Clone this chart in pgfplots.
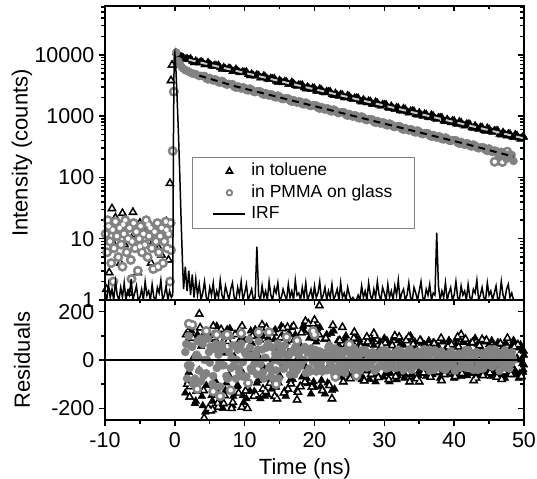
\documentclass[border=0pt]{standalone}
\usepackage{fontspec}
\setmainfont{Liberation Sans}
\usepackage{pgfplots}
\usepackage{pgfplotstable}
\pgfplotsset{compat=1.18}
\definecolor{pgray}{RGB}{130,130,130}
% toluene points before the rise (open triangles)
\pgfplotstableread[row sep=\\]{x y\\
-9.8 1.5\\ -9.4 2.8\\ -9.0 31\\ -8.7 8\\ -8.5 22\\ -8.1 12\\ -7.8 4\\ -7.5 26\\ -7.2 8\\ -6.9 15\\
-6.5 1.3\\ -6.2 10\\ -6.0 27\\ -5.6 10\\ -5.3 2.8\\ -5.0 18\\ -4.6 6\\ -4.2 13\\ -3.8 9\\ -3.4 4\\
-3.0 11\\ -2.6 16\\ -2.3 7\\ -1.9 5.4\\ -1.6 12\\ -1.2 19\\ -0.9 4.5\\ -0.7 80\\ -0.55 3800\\ -0.4 6800\\
}\tolpre
% PMMA points before the rise (open circles)
\pgfplotstableread[row sep=\\]{x y\\
-9.9 12\\ -9.7 6\\ -9.5 16\\ -9.3 9\\ -9.1 4\\ -8.9 14\\ -8.7 7\\ -8.5 19\\ -8.3 11\\ -8.1 5\\
-7.9 15\\ -7.7 8\\ -7.5 3.5\\ -7.3 12\\ -7.1 20\\ -6.9 6\\ -6.7 10\\ -6.5 15\\ -6.3 4.5\\ -6.1 9\\
-5.9 18\\ -5.7 7\\ -5.5 13\\ -5.3 3\\ -5.1 10\\ -4.9 16\\ -4.7 6\\ -4.5 12\\ -4.3 8\\ -4.1 20\\
-3.9 5\\ -3.7 11\\ -3.5 15\\ -3.3 7\\ -3.1 3.2\\ -2.9 13\\ -2.7 9\\ -2.5 18\\ -2.3 6\\ -2.1 11\\
-1.9 15\\ -1.7 4\\ -1.5 9\\ -1.3 19\\ -1.1 7\\ -0.9 12\\ -0.7 2\\ -0.55 6.5\\ -9.6 20\\ -8.8 2\\
-7.4 17\\ -6.2 2.2\\ -5.0 7.5\\ -3.8 17\\ -2.4 3.5\\ -1.2 14\\ -0.6 18\\ -0.3 270\\ -0.15 2500\\
47.6 263\\ 45.8 180\\ 46.9 178\\
}\pmpre
% toluene residuals, outer points (open triangles)
\pgfplotstableread[row sep=\\]{x y\\
1.625 105\\ 2.125 -153\\ 2.625 90\\ 3.125 -128\\ 3.625 133\\ 4.125 -126\\ 4.625 112\\ 5.125 -210\\ 5.625 91\\ 6.125 -179\\
6.625 126\\ 7.125 -147\\ 7.625 77\\ 8.125 -200\\ 8.625 105\\ 9.125 -137\\ 9.625 140\\ 10.125 -128\\ 10.625 84\\ 11.125 98\\
11.625 -144\\ 12.125 84\\ 12.625 -120\\ 13.125 133\\ 13.625 -96\\ 14.125 112\\ 14.625 -160\\ 15.125 91\\ 15.625 -136\\ 16.125 135\\
16.625 -98\\ 17.125 83\\ 17.625 -133\\ 18.125 113\\ 18.625 -91\\ 19.125 150\\ 19.625 -112\\ 20.125 90\\ 20.625 105\\ 21.125 -126\\
21.625 90\\ 22.125 -105\\ 22.625 143\\ 23.125 -54\\ 23.625 80\\ 24.125 -90\\ 24.625 65\\ 25.125 -77\\ 25.625 90\\ 26.125 -63\\
26.625 55\\ 27.125 -86\\ 27.625 75\\ 28.125 -59\\ 28.625 100\\ 29.125 -72\\ 29.625 60\\ 30.125 70\\ 30.625 -81\\ 31.125 60\\
31.625 -68\\ 32.125 95\\ 32.625 -54\\ 33.125 80\\ 33.625 -90\\ 34.125 65\\ 34.625 -77\\ 35.125 81\\ 35.625 -53\\ 36.125 50\\
36.625 -71\\ 37.125 68\\ 37.625 -49\\ 38.125 90\\ 38.625 -60\\ 39.125 54\\ 39.625 63\\ 40.125 -68\\ 40.625 54\\ 41.125 -56\\
41.625 86\\ 42.125 -45\\ 42.625 72\\ 43.125 -75\\ 43.625 59\\ 44.125 -64\\ 44.625 81\\ 45.125 -53\\ 45.625 50\\ 46.125 -71\\
46.625 68\\ 47.125 -49\\ 47.625 90\\ 48.125 -60\\ 48.625 54\\ 49.125 63\\ 49.625 -68\\
3.5 190\\ 4.2 -240\\ 5.5 140\\ 12.5 145\\ 17.5 -165\\ 20.7 225\\ 20 165\\ 19.8 150\\ 22.5 -160\\ 24 135\\
27.5 95\\ 41 105\\ 40.5 95\\ 44 85\\ 46.8 -80\\ 35 -90\\ 38.2 -85\\ 42.8 -85\\ 1.8 -100\\ 2.2 -110\\
4.8 -200\\ 5.4 -205\\ 6.2 -195\\ 7 -180\\ 8.3 -175\\ 9.6 -195\\ 10.4 -200\\ 11.3 -150\\ 13 -130\\ 14.3 -150\\
16.2 -120\\ 18 -110\\ 9.3 125\\ 12 100\\ 15.5 130\\ 17 140\\ 18.7 160\\ 25.7 115\\ 28.5 110\\ 31.5 100\\
33.5 95\\
}\tolres
% PMMA residuals, outer points (open circles)
\pgfplotstableread[row sep=\\]{x y\\
2 150\\ 2.5 145\\ 4.5 120\\ 6.5 -150\\ 5.5 -130\\ 7.5 105\\ 9.5 110\\ 12 115\\ 13.5 115\\ 14.5 -100\\
19.8 120\\ 20 105\\ 3.2 -120\\ 8 -125\\ 16 95\\ 25 65\\ 26 -65\\ 6 105\\ 10.5 -95\\ 17.5 80\\ 23 -70\\
}\pmres
\pgfplotsset{
  common/.style={
    scale only axis, width=419bp,
    xmin=-10, xmax=50,
    xtick={-10,0,10,20,30,40,50},
    minor x tick num=1,
    axis line style={line width=2bp},
    tick style={line width=1.5bp, black},
    major tick length=5.5bp, minor tick length=3.5bp,
    tick label style={font=\fontsize{21.5bp}{25bp}\selectfont},
    xticklabel style={inner sep=0pt, anchor=north, yshift=-7bp},
    yticklabel style={inner sep=0pt, anchor=east, xshift=-5bp},
    every axis y label/.style={at={(rel axis cs:0,0.5)}, xshift=-83bp, rotate=90, anchor=center, inner sep=0pt, font=\fontsize{22bp}{26bp}\selectfont},
    every axis x label/.style={at={(rel axis cs:0.5,0)}, xshift=-9.5bp, yshift=-38bp, anchor=north, inner sep=0pt, font=\fontsize{22bp}{26bp}\selectfont},
  },
  triA/.style={only marks, mark=triangle*, mark size=5.2bp, black, mark options={solid, fill=black, draw=black}},
  triB/.style={only marks, mark=triangle*, mark size=1.9bp, white, mark options={solid, fill=white, draw=white}},
  cirA/.style={only marks, mark=*, mark size=4.8bp, pgray, mark options={solid, fill=pgray, draw=pgray}},
  cirB/.style={only marks, mark=*, mark size=2.0bp, white, mark options={solid, fill=white, draw=white}},
  tolfill/.style={only marks, mark=triangle*, mark size=4.5bp, black, mark options={solid, fill=black, draw=black}},
  pmfill/.style={only marks, mark=*, mark size=4bp, pgray, mark options={solid, fill=pgray, draw=pgray}},
}
\begin{document}
\begin{tikzpicture}
\useasboundingbox (-105bp,-59bp) rectangle (432bp,420bp);
% ---------------- residual panel ----------------
\begin{axis}[common, at={(0,0)}, anchor=south west, height=120bp,
  ymin=-248, ymax=248, ytick={-200,0,200}, minor y tick num=1,
  tick align=outside, xtick pos=left, ytick pos=left,
  xticklabels={-10,0,10,20,30,40,50}, yticklabels={-200,0,200},
  xlabel={Time (ns)}, ylabel={Residuals}]
\addplot[tolfill] coordinates {
(1.5,-136)(1.75,75)(2,-51)(2.25,135)(2.5,-102)(2.75,15)(3,-170)(3.25,105)(3.5,-42)(3.75,56)
(4,-189)(4.25,112)(4.5,-105)(4.75,0)(5,84)(5.25,-147)(5.5,42)(5.75,-84)(6,140)(6.25,-21)
(6.5,-168)(6.75,70)(7,28)(7.25,-126)(7.5,126)(7.75,-63)(8,98)(8.25,-189)(8.5,14)(8.75,56)
(9,-105)(9.25,112)(9.5,-42)(9.75,-147)(10,84)(10.25,-160)(10.5,42)(10.75,-128)(11,70)(11.25,-48)
(11.5,126)(11.75,-96)(12,14)(12.25,-160)(12.5,98)(12.75,-32)(13,56)(13.25,-144)(13.5,112)(13.75,-80)
(14,0)(14.25,84)(14.5,-112)(14.75,42)(15,-64)(15.25,140)(15.5,-16)(15.75,-128)(16,75)(16.25,30)
(16.5,-84)(16.75,135)(17,-42)(17.25,105)(17.5,-126)(17.75,15)(18,60)(18.25,-70)(18.5,120)(18.75,-28)
(19,-98)(19.25,90)(19.5,-140)(19.75,45)(20,-112)(20.25,75)(20.5,-42)(20.75,135)(21,-84)(21.25,15)
(21.5,-140)(21.75,105)(22,-28)(22.25,60)(22.5,-126)(22.75,120)(23,-45)(23.25,0)(23.5,60)(23.75,-63)
(24,30)(24.25,-36)(24.5,100)(24.75,-9)(25,-72)(25.25,50)(25.5,20)(25.75,-54)(26,90)(26.25,-27)
(26.5,70)(26.75,-81)(27,10)(27.25,40)(27.5,-45)(27.75,80)(28,-18)(28.25,-63)(28.5,60)(28.75,-90)
(29,30)(29.25,-72)(29.5,50)(29.75,-27)(30,90)(30.25,-54)(30.5,10)(30.75,-90)(31,70)(31.25,-18)
(31.5,40)(31.75,-81)(32,80)(32.25,-45)(32.5,0)(32.75,60)(33,-63)(33.25,30)(33.5,-36)(33.75,100)
(34,-9)(34.25,-72)(34.5,50)(34.75,20)(35,-45)(35.25,81)(35.5,-23)(35.75,63)(36,-68)(36.25,9)
(36.5,36)(36.75,-38)(37,72)(37.25,-15)(37.5,-53)(37.75,54)(38,-75)(38.25,27)(38.5,-60)(38.75,45)
(39,-23)(39.25,81)(39.5,-45)(39.75,9)(40,-75)(40.25,63)(40.5,-15)(40.75,36)(41,-68)(41.25,72)
(41.5,-38)(41.75,0)(42,54)(42.25,-53)(42.5,27)(42.75,-30)(43,90)(43.25,-8)(43.5,-60)(43.75,45)
(44,18)(44.25,-45)(44.5,81)(44.75,-23)(45,63)(45.25,-68)(45.5,9)(45.75,36)(46,-38)(46.25,72)
(46.5,-15)(46.75,-53)(47,54)(47.25,-75)(47.5,27)(47.75,-60)(48,45)(48.25,-23)(48.5,81)(48.75,-45)
(49,9)(49.25,-75)(49.5,63)(49.75,-15)(50,36)
(1.875,-90)(2.375,120)(2.875,-180)(3.375,80)(3.875,-150)(4.375,-215)(4.875,95)(5.375,-170)(5.875,-120)(6.375,110)
(6.875,-200)(7.375,-95)(7.875,130)(8.375,-150)(8.875,-110)(9.375,85)(9.875,-175)(10.375,-90)(10.875,120)(11.375,-130)
(11.875,-85)(12.375,110)(12.875,-150)(13.375,90)(13.875,-120)(14.375,125)(14.875,-95)(15.375,100)(15.875,-150)(16.375,110)
(16.875,-80)(17.375,95)(17.875,-110)(18.375,140)(18.875,-75)(19.375,115)(19.875,-90)(20.375,130)(20.875,-110)(21.375,85)
(21.875,-95)(22.375,110)(22.875,-120)(23.375,80)(23.875,-70)(24.375,85)(24.875,-60)(25.375,75)(25.875,-65)(26.375,85)
(26.875,-70)(27.375,65)(27.875,-80)(28.375,85)(28.875,-60)(29.375,75)(29.875,-70)(30.375,80)(30.875,-55)(31.375,90)
(31.875,-65)(32.375,70)(32.875,-75)(33.375,85)(33.875,-60)(34.375,75)(34.875,-65)(35.375,70)(35.875,-55)(36.375,80)
(36.875,-60)(37.375,65)(37.875,-50)(38.375,75)(38.875,-55)(39.375,70)(39.875,-60)(40.375,85)(40.875,-50)(41.375,75)
(41.875,-65)(42.375,70)(42.875,-55)(43.375,65)(43.875,-60)(44.375,75)(44.875,-50)(45.375,80)(45.875,-55)(46.375,65)
(46.875,-60)(47.375,70)(47.875,-50)(48.375,65)(48.875,-55)(49.375,50)(49.875,-50)
(49.2,55)(49.4,-55)(49.7,40)(49.9,-40)(48.9,60)(49.1,-60)(50,-20)(50,20)(49.6,0)
};
\addplot[triA] table {\tolres};
\addplot[triB] table {\tolres};
\addplot[pmfill] coordinates {
(1.5,33)(1.75,-77)(2,99)(2.25,-22)(2.5,55)(2.75,-99)(3,11)(3.25,77)(3.5,-44)(3.75,-88)
(4,66)(4.25,0)(4.5,-55)(4.75,88)(5,-11)(5.25,44)(5.5,-66)(5.75,110)(6,-33)(6.25,22)
(6.5,-110)(6.75,66)(7,-22)(7.25,99)(7.5,-77)(7.75,33)(8,-34)(8.25,60)(8.5,0)(8.75,-77)
(9,43)(9.25,-51)(9.5,68)(9.75,-9)(10,34)(10.25,-68)(10.5,17)(10.75,51)(11,-43)(11.25,9)
(11.5,26)(11.75,-60)(12,77)(12.25,-17)(12.5,43)(12.75,-77)(13,9)(13.25,60)(13.5,-34)(13.75,-68)
(14,51)(14.25,0)(14.5,-43)(14.75,68)(15,-6)(15.25,24)(15.5,-36)(15.75,60)(16,-18)(16.25,12)
(16.5,-60)(16.75,36)(17,-12)(17.25,54)(17.5,-42)(17.75,18)(18,-24)(18.25,42)(18.5,0)(18.75,-54)
(19,30)(19.25,-36)(19.5,48)(19.75,-6)(20,24)(20.25,-48)(20.5,12)(20.75,36)(21,-30)(21.25,6)
(21.5,18)(21.75,-42)(22,54)(22.25,-12)(22.5,30)(22.75,-54)(23,6)(23.25,42)(23.5,-24)(23.75,-48)
(24,36)(24.25,0)(24.5,-30)(24.75,48)(25,-5)(25.25,18)(25.5,-27)(25.75,45)(26,-14)(26.25,9)
(26.5,-45)(26.75,27)(27,-9)(27.25,41)(27.5,-32)(27.75,14)(28,-18)(28.25,32)(28.5,0)(28.75,-41)
(29,23)(29.25,-27)(29.5,36)(29.75,-5)(30,18)(30.25,-36)(30.5,9)(30.75,27)(31,-23)(31.25,5)
(31.5,14)(31.75,-32)(32,41)(32.25,-9)(32.5,23)(32.75,-41)(33,5)(33.25,32)(33.5,-18)(33.75,-36)
(34,27)(34.25,0)(34.5,-23)(34.75,36)(35,-5)(35.25,18)(35.5,-27)(35.75,45)(36,-14)(36.25,9)
(36.5,-45)(36.75,27)(37,-9)(37.25,41)(37.5,-32)(37.75,14)(38,-18)(38.25,32)(38.5,0)(38.75,-41)
(39,23)(39.25,-27)(39.5,36)(39.75,-5)(40,18)(40.25,-36)(40.5,9)(40.75,27)(41,-23)(41.25,5)
(41.5,14)(41.75,-32)(42,41)(42.25,-9)(42.5,23)(42.75,-41)(43,5)(43.25,32)(43.5,-18)(43.75,-36)
(44,27)(44.25,0)(44.5,-23)(44.75,36)(45,-5)(45.25,18)(45.5,-27)(45.75,45)(46,-14)(46.25,9)
(46.5,-45)(46.75,27)(47,-9)(47.25,41)(47.5,-32)(47.75,14)(48,-18)(48.25,32)(48.5,0)
(1.625,66)(2.125,-33)(2.625,-99)(3.125,22)(3.625,88)(4.125,-66)(4.625,0)(5.125,55)(5.625,-110)(6.125,44)
(6.625,-22)(7.125,99)(7.625,-77)(8.125,9)(8.625,60)(9.125,-34)(9.625,-68)(10.125,26)(10.625,85)(11.125,-43)
(11.625,17)(12.125,-9)(12.625,-51)(13.125,51)(13.625,-26)(14.125,-77)(14.625,17)(15.125,48)(15.625,-36)(16.125,0)
(16.625,30)(17.125,-60)(17.625,24)(18.125,-12)(18.625,54)(19.125,-42)(19.625,6)(20.125,42)(20.625,-24)(21.125,-48)
(21.625,18)(22.125,60)(22.625,-30)(23.125,12)(23.625,-6)(24.125,-36)(24.625,36)(25.125,-14)(25.625,-41)(26.125,9)
(26.625,36)(27.125,-27)(27.625,0)(28.125,23)(28.625,-45)(29.125,18)(29.625,-9)(30.125,41)(30.625,-32)(31.125,5)
(31.625,32)(32.125,-18)(32.625,-36)(33.125,14)(33.625,45)(34.125,-23)(34.625,9)(35.125,-5)(35.625,-27)(36.125,27)
(36.625,-14)(37.125,-41)(37.625,9)(38.125,36)(38.625,-27)(39.125,0)(39.625,23)(40.125,-45)(40.625,18)(41.125,-9)
(41.625,41)(42.125,-32)(42.625,5)(43.125,32)(43.625,-18)(44.125,-36)(44.625,14)(45.125,45)(45.625,-23)(46.125,9)
(46.625,-5)(47.125,-27)(47.625,27)(48.125,-14)
(1.875,-22)(2.375,55)(2.875,-77)(3.375,11)(3.875,88)(4.375,-55)(4.875,33)(5.375,-99)(5.875,66)(6.375,-11)
(6.875,44)(7.375,-66)(7.875,99)(8.375,-26)(8.875,0)(9.375,60)(9.875,-68)(10.375,17)(10.875,-34)(11.375,-17)
(11.875,43)(12.375,-60)(12.875,9)(13.375,68)(13.875,-43)(14.375,26)(14.875,-77)(15.375,36)(15.875,-6)(16.375,24)
(16.875,-36)(17.375,54)(17.875,-18)(18.375,0)(18.875,42)(19.375,-48)(19.875,12)(20.375,-24)(20.875,-12)(21.375,30)
(21.875,-42)(22.375,6)(22.875,48)(23.375,-30)(23.875,18)(24.375,-54)(24.875,36)(25.375,-5)(25.875,18)(26.375,-27)
(26.875,41)(27.375,-14)(27.875,0)(28.375,32)(28.875,-36)(29.375,9)(29.875,-18)(30.375,-9)(30.875,23)(31.375,-32)
(31.875,5)(32.375,36)(32.875,-23)(33.375,14)(33.875,-41)(34.375,27)(34.875,-5)(35.375,18)(35.875,-27)(36.375,41)
(36.875,-14)(37.375,0)(37.875,32)(38.375,-36)(38.875,9)(39.375,-18)(39.875,-9)(40.375,23)(40.875,-32)(41.375,5)
(41.875,36)(42.375,-23)(42.875,14)(43.375,-41)(43.875,27)(44.375,-5)(44.875,18)(45.375,-27)(45.875,41)(46.375,-14)
(46.875,0)(47.375,32)(47.875,-36)(48.375,9)
};
\addplot[cirA] table {\pmres};
\addplot[cirB] table {\pmres};
\end{axis}
\begin{axis}[common, at={(0,0)}, anchor=south west, height=120bp,
  ymin=-248, ymax=248, ytick={-200,0,200}, minor y tick num=1,
  tick align=inside, xtick pos=right, ytick pos=right, xticklabels={}, yticklabels={}]
\addplot[black, line width=1.2bp] coordinates {(-10,0) (50,0)};
\end{axis}
% ---------------- decay panel ----------------
\begin{axis}[common, at={(0,120bp)}, anchor=south west, height=294bp,
  ymode=log, ymin=1, ymax=62500, ytick={1,10,100,1000,10000},
  minor ytick={2,3,4,5,6,7,8,9,20,30,40,50,60,70,80,90,200,300,400,500,600,700,800,900,2000,3000,4000,5000,6000,7000,8000,9000,20000,30000,40000,50000,60000},
  tick align=outside, xtick pos=left, ytick pos=left,
  xticklabels={}, yticklabels={1,10,100,1000,10000},
  ylabel={Intensity (counts)}]
\addplot[triA] table {\tolpre};
\addplot[triB] table {\tolpre};
\addplot[tolfill] coordinates {
(0.2,10800)(0.5,9900)(1,9300)(1.5,8500)(2,8350)(2.5,7900)(3,7950)
(3.5,7400)(4,7500)(4.5,6950)(5,7050)(5.5,6550)(6,6650)(6.5,6150)(7,6250)(7.5,5750)(8,5900)
(8.5,5450)(9,5500)(9.5,5100)(10,5200)(10.5,4800)(11,4900)(11.5,4500)(12,4620)(12.5,4230)(13,4330)
(13.5,3980)(14,4080)(14.5,3720)(15,3850)(15.5,3500)(16,3620)(16.5,3290)(17,3410)(17.5,3090)(18,3210)
(18.5,2900)(19,3020)(19.5,2720)(20,2850)(20.5,2560)(21,2680)(21.5,2400)(22,2520)(22.5,2260)(23,2370)
(23.5,2120)(24,2230)(24.5,1990)(25,2100)(25.5,1870)(26,1980)(26.5,1760)(27,1860)(27.5,1650)(28,1750)
(28.5,1550)(29,1650)(29.5,1460)(30,1550)(30.5,1370)(31,1460)(31.5,1290)(32,1370)(32.5,1210)(33,1300)
(33.5,1130)(34,1220)(34.5,1060)(35,1140)(35.5,1000)(36,1075)(36.5,940)(37,1010)(37.5,880)(38,950)
(38.5,830)(39,890)(39.5,780)(40,840)(40.5,730)(41,790)(41.5,690)(42,745)(42.5,645)(43,700)
(43.5,605)(44,660)(44.5,570)(45,615)(45.5,540)(46,580)(46.5,505)(47,545)(47.5,475)(48,515)
(48.5,450)(49,485)(49.5,420)(50,455)
(0.75,9400)(1.25,8900)(1.75,8700)(2.25,8670)(2.75,7450)(3.25,7530)(3.75,7750)(4.25,6870)(4.75,7500)(5.25,6590)
(5.75,6790)(6.25,6770)(6.75,5820)(7.25,5890)(7.75,6060)(8.25,5370)(8.75,5860)(9.25,5150)(9.75,5300)(10.25,5300)
(10.75,4550)(11.25,4600)(11.75,4740)(12.25,4200)(12.75,4580)(13.25,4030)(13.75,4150)(14.25,4140)(14.75,3560)(15.25,3600)
(15.75,3700)(16.25,3280)(16.75,3580)(17.25,3150)(17.75,3240)(18.25,3240)(18.75,2780)(19.25,2810)(19.75,2900)(20.25,2565)
(20.75,2800)(21.25,2460)(21.75,2535)(22.25,2530)(22.75,2175)(23.25,2200)(23.75,2265)(24.25,2005)(24.75,2190)(25.25,1925)
(25.75,1980)(26.25,1980)(26.75,1700)(27.25,1720)(27.75,1770)(28.25,1570)(28.75,1710)(29.25,1505)(29.75,1550)(30.25,1550)
(30.75,1330)(31.25,1345)(31.75,1385)(32.25,1225)(32.75,1340)(33.25,1175)(33.75,1210)(34.25,1210)(34.75,1040)(35.25,1050)
(35.75,1085)(36.25,960)(36.75,1050)(37.25,920)(37.75,950)(38.25,945)(38.75,815)(39.25,820)(39.75,845)(40.25,750)
(40.75,820)(41.25,720)(41.75,740)(42.25,740)(42.75,635)(43.25,645)(43.75,660)(44.25,585)(44.75,640)(45.25,565)
(45.75,580)(46.25,580)(46.75,495)(47.25,505)(47.75,515)(48.25,460)(48.75,500)(49.25,440)(49.75,455)
};
\addplot[cirA] table {\pmpre};
\addplot[cirB] table {\pmpre};
\addplot[pmfill] coordinates {
(0.2,10900)(0.5,7900)(1,6300)(1.5,5600)(2,5300)(2.5,4950)(3,4850)(3.5,4500)
(4,4500)(4.5,4100)(5,4200)(5.5,3780)(6,3880)(6.5,3500)(7,3580)(7.5,3240)(8,3330)(8.5,3000)
(9,3080)(9.5,2800)(10,2890)(10.5,2620)(11,2710)(11.5,2450)(12,2540)(12.5,2300)(13,2380)(13.5,2150)
(14,2230)(14.5,2010)(15,2090)(15.5,1890)(16,1950)(16.5,1770)(17,1830)(17.5,1650)(18,1720)(18.5,1550)
(19,1600)(19.5,1450)(20,1500)(20.5,1360)(21,1410)(21.5,1270)(22,1320)(22.5,1190)(23,1235)(23.5,1115)
(24,1160)(24.5,1045)(25,1085)(25.5,975)(26,1015)(26.5,915)(27,950)(27.5,855)(28,890)(28.5,800)
(29,835)(29.5,750)(30,780)(30.5,705)(31,730)(31.5,660)(32,685)(32.5,615)(33,640)(33.5,580)
(34,600)(34.5,540)(35,562)(35.5,505)(36,528)(36.5,475)(37,494)(37.5,443)(38,462)(38.5,415)
(39,433)(39.5,390)(40,405)(40.5,365)(41,380)(41.5,340)(42,356)(42.5,318)(43,332)(43.5,297)
(44,310)(44.5,278)(45,298)(45.5,258)(46,272)(46.5,215)(47,252)(47.5,200)(48,232)(48.5,185)
(0.75,7000)(1.25,5900)(1.75,5500)(2.25,5100)(2.75,4900)(3.25,4650)(3.75,4550)(4.25,4540)(4.75,3950)(5.25,3960)
(5.75,4000)(6.25,3550)(6.75,3770)(7.25,3320)(7.75,3360)(8.25,3330)(8.75,2895)(9.25,2910)(9.75,2960)(10.25,2645)
(10.75,2825)(11.25,2500)(11.75,2545)(12.25,2535)(12.75,2220)(13.25,2240)(13.75,2275)(14.25,2035)(14.75,2170)(15.25,1925)
(15.75,1960)(16.25,1950)(16.75,1710)(17.25,1720)(17.75,1750)(18.25,1565)(18.75,1670)(19.25,1480)(19.75,1505)(20.25,1500)
(20.75,1315)(21.25,1325)(21.75,1345)(22.25,1200)(22.75,1285)(23.25,1140)(23.75,1160)(24.25,1155)(24.75,1010)(25.25,1020)
(25.75,1035)(26.25,925)(26.75,990)(27.25,875)(27.75,890)(28.25,888)(28.75,777)(29.25,783)(29.75,796)(30.25,711)
(30.75,760)(31.25,673)(31.75,685)(32.25,683)(32.75,597)(33.25,603)(33.75,613)(34.25,547)(34.75,585)(35.25,517)
(35.75,527)(36.25,525)(36.75,460)(37.25,463)(37.75,471)(38.25,420)(38.75,450)(39.25,398)(39.75,406)(40.25,404)
(40.75,353)(41.25,356)(41.75,362)(42.25,324)(42.75,345)(43.25,305)(43.75,310)(44.25,308)(44.75,269)(45.25,271)
(45.75,275)(46.25,246)(46.75,262)(47.25,231)(47.75,235)(48.25,233)
};
\end{axis}
% overlay: fits, IRF, legend, mirrored ticks
\begin{axis}[common, at={(0,120bp)}, anchor=south west, height=294bp,
  ymode=log, ymin=1, ymax=62500, ytick={1,10,100,1000,10000},
  minor ytick={2,3,4,5,6,7,8,9,20,30,40,50,60,70,80,90,200,300,400,500,600,700,800,900,2000,3000,4000,5000,6000,7000,8000,9000,20000,30000,40000,50000,60000},
  tick align=inside, xtick pos=right, ytick pos=right, xticklabels={}, yticklabels={},
  legend style={at={(0.208,0.486)}, anchor=north west, draw=pgray, line width=0.8bp,
    font=\fontsize{17.5bp}{21bp}\selectfont, inner xsep=20bp, inner ysep=3bp,
    nodes={inner sep=2bp, text height=13bp, text depth=4.5bp}, column sep=3bp},
  legend cell align=left]
\addlegendimage{legend image code/.code={\path (0bp,0bp) (32bp,0bp); \draw[black, line width=1.7bp, mark=triangle, mark size=3.5bp] plot coordinates {(16bp,0bp)};}}
\addlegendentry{in toluene}
\addlegendimage{legend image code/.code={\path (0bp,0bp) (32bp,0bp); \draw[pgray, line width=1.9bp, mark=o, mark size=2.7bp] plot coordinates {(16bp,0bp)};}}
\addlegendentry{in PMMA on glass}
\addlegendimage{legend image code/.code={\draw[black, line width=1.8bp] (0bp,0bp) -- (32bp,0bp);}}
\addlegendentry{IRF}
\addplot[forget plot, gray!45, line width=2bp, dash pattern=on 7bp off 5bp] coordinates {(2,8300) (26,1895) (50,433)};
\addplot[forget plot, black, line width=2bp, dash pattern=on 7bp off 5bp] coordinates {
(3.5,4570) (6,3758) (8.84,3020) (20,1452) (30,753) (42,343) (48.5,218)};
\addplot[forget plot, black, line width=1.5bp] coordinates {
(-10,1.3)(-9.75,1)(-9.5,1.8)(-9.25,1.1)(-9,1.5)(-8.75,1)(-8.5,2.0)(-8.25,1.2)(-8,1)(-7.75,1.6)
(-7.5,1.1)(-7.25,1.9)(-7,1)(-6.75,1.4)(-6.5,1.2)(-6.25,2.2)(-6,1)(-5.75,1.3)(-5.5,1.7)(-5.25,1)
(-5,1.1)(-4.75,1.5)(-4.5,1)(-4.25,2.0)(-4,1.2)(-3.75,1.4)(-3.5,1)(-3.25,1.8)(-3,1.1)(-2.75,1)
(-2.5,1.6)(-2.25,1.3)(-2,2.1)(-1.75,1)(-1.5,1.2)(-1.25,1.7)(-1,1)(-0.75,1.4)(-0.5,1.1)
(-0.3,1.2)(-0.2,400)(-0.1,9000)(0,10700)(0.15,6000)(0.3,2300)(0.5,600)(0.7,120)(0.9,20)(1.1,4)
(1.25,1.5)(1.5,3.5)(1.75,1.4)(2,3.0)(2.25,1.2)(2.5,2.6)(2.75,1.1)(3,2.2)
(3.25,1.2)(3.5,1.8)(3.75,1)(4,1.3)(4.25,2.0)(4.5,1.1)(4.75,1)(5,1.6)(5.25,1.2)(5.5,1.9)
(5.75,1)(6,1.4)(6.25,1.1)(6.5,2.1)(6.75,1.2)(7,1)(7.25,1.7)(7.5,1.3)(7.75,1)(8,1.5)
(8.25,1.9)(8.5,1.1)(8.75,1)(9,1.6)(9.25,1.2)(9.5,2.0)(9.75,1)(10,1.3)(10.25,1.8)(10.5,1)
(10.75,1.2)(11,1.5)(11.25,1)(11.5,1.1)(11.75,7.4)(12,1.2)(12.25,1)(12.5,1.7)(12.75,1.1)(13,1.4)
(13.25,1)(13.5,2.0)(13.75,1.2)(14,1)(14.25,1.6)(14.5,1.3)(14.75,1.9)(15,1)(15.25,1.1)(15.5,1.5)
(15.75,1.2)(16,1)(16.25,1.8)(16.5,1.1)(16.75,1.4)(17,1)(17.25,2.1)(17.5,1.2)(17.75,1.3)(18,1)
(18.25,1.6)(18.5,1.1)(18.75,1.9)(19,1)(19.25,1.2)(19.5,1.5)(19.75,1)(20,1.7)(20.25,1.1)(20.5,1.3)
(20.75,2.0)(21,1)(21.25,1.2)(21.5,1.6)(21.75,1)(22,1.4)(22.25,1.1)(22.5,1.8)(22.75,1)(23,1.2)
(23.25,1.5)(23.5,1)(23.75,1.9)(24,1.1)(24.25,1.3)(24.5,1)(24.75,1.6)(25,1.2)(25.25,1)(25.5,1.1)
(25.75,1)(26,1)(26.25,1.2)(26.5,1)(26.75,1.7)(27,1.1)(27.25,1.4)(27.5,1)(27.75,1.9)(28,1.2)
(28.25,1)(28.5,1.5)(28.75,1.1)(29,2.0)(29.25,1.2)(29.5,1)(29.75,1.6)(30,1.3)(30.25,1)(30.5,1.8)
(30.75,1.1)(31,1.4)(31.25,1)(31.5,1.7)(31.75,1.2)(32,2.1)(32.25,1)(32.5,1.3)(32.75,1.5)(33,1)
(33.25,1.2)(33.5,1.9)(33.75,1.1)(34,1)(34.25,1.6)(34.5,1.3)(34.75,1)(35,1.4)(35.25,2.0)(35.5,1.1)
(35.75,1)(36,1.5)(36.25,1.2)(36.5,1.8)(36.75,1)(37,1.3)(37.25,1.2)(37.5,12.5)(37.75,1.7)(38,1)
(38.25,1.4)(38.5,1.1)(38.75,1.9)(39,1)(39.25,1.3)(39.5,1.6)(39.75,1)(40,1.2)(40.25,2.0)(40.5,1.1)
(40.75,1)(41,1.7)(41.25,1.2)(41.5,1.4)(41.75,1)(42,1.8)(42.25,1.1)(42.5,1)(42.75,1.5)(43,1.3)
(43.25,2.1)(43.5,1)(43.75,1.2)(44,1.6)(44.25,1.1)(44.5,1)(44.75,1.9)(45,1.2)(45.25,1.4)(45.5,1)
(45.75,1.3)(46,1.7)(46.25,1)(46.5,1.1)(46.75,2.0)(47,1.2)(47.25,1)(47.5,1.5)(47.75,1.8)(48,1.1)
(48.25,1.3)(48.5,1)
};
\end{axis}
\end{tikzpicture}
\end{document}
